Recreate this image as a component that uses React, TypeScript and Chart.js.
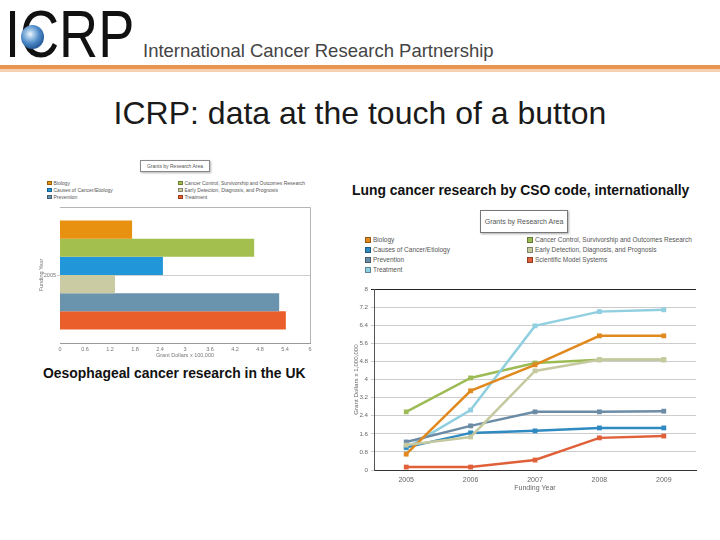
import React, { useEffect, useRef } from 'react';
import { Chart, registerables } from 'chart.js';

Chart.register(...registerables);

// ---------- Bar chart (Oesophageal cancer research in the UK) ----------
const barCategories = ['2005'];
const barSeriesNames = [
  'Biology',
  'Cancer Control, Survivorship and Outcomes Research',
  'Causes of Cancer/Etiology',
  'Early Detection, Diagnosis, and Prognosis',
  'Prevention',
  'Treatment',
];
const barValues = [1.73, 4.66, 2.47, 1.32, 5.26, 5.42];
const barColors = ['#E8900F', '#A3BF4E', '#2196D8', '#CACBA3', '#6A93AE', '#EA5E2B'];
const barLegendLeft = ['Biology', 'Causes of Cancer/Etiology', 'Prevention'];
const barLegendRight = [
  'Cancer Control, Survivorship and Outcomes Research',
  'Early Detection, Diagnosis, and Prognosis',
  'Treatment',
];

// ---------- Line chart (Lung cancer research by CSO code) ----------
const years = ['2005', '2006', '2007', '2008', '2009'];
const lineSeriesNames = [
  'Biology',
  'Causes of Cancer/Etiology',
  'Prevention',
  'Treatment',
  'Cancer Control, Survivorship and Outcomes Research',
  'Early Detection, Diagnosis, and Prognosis',
  'Scientific Model Systems',
];
const biology = [0.7, 3.5, 4.65, 5.93, 5.93];
const causes = [1.0, 1.64, 1.73, 1.86, 1.86];
const prevention = [1.24, 1.95, 2.57, 2.57, 2.6];
const treatment = [0.97, 2.65, 6.37, 7.0, 7.08];
const cancerControl = [2.57, 4.07, 4.73, 4.87, 4.87];
const earlyDetection = [1.1, 1.46, 4.38, 4.87, 4.87];
const modelSystems = [0.13, 0.13, 0.44, 1.42, 1.5];
const lineSeriesValues = [biology, causes, prevention, treatment, cancerControl, earlyDetection, modelSystems];
const lineColors = ['#E0891E', '#2E8AC0', '#6C8CA6', '#8FCFE0', '#9DBB55', '#C6C9A0', '#E0603A'];
const lineLegendLeft = ['Biology', 'Causes of Cancer/Etiology', 'Prevention', 'Treatment'];
const lineLegendRight = [
  'Cancer Control, Survivorship and Outcomes Research',
  'Early Detection, Diagnosis, and Prognosis',
  'Scientific Model Systems',
];

const FONT = '"Liberation Sans", Arial, sans-serif';

const fmt = (v: number) => String(Number(Number(v).toFixed(1)));

const framePlugin = {
  id: 'frameTopRight',
  afterDraw(chart: any) {
    const { ctx, chartArea } = chart;
    ctx.save();
    ctx.strokeStyle = '#b5b5b5';
    ctx.lineWidth = 1;
    ctx.beginPath();
    ctx.moveTo(chartArea.left, chartArea.top + 0.5);
    ctx.lineTo(chartArea.right + 0.5, chartArea.top + 0.5);
    ctx.lineTo(chartArea.right + 0.5, chartArea.bottom);
    ctx.stroke();
    ctx.restore();
  },
};

function BarChart() {
  const ref = useRef<HTMLCanvasElement>(null);
  useEffect(() => {
    const chart = new Chart(ref.current as HTMLCanvasElement, {
      type: 'bar',
      data: {
        labels: barCategories,
        datasets: barSeriesNames.map((name, i) => ({
          label: name,
          data: [barValues[i]],
          backgroundColor: barColors[i],
          borderWidth: 0,
          categoryPercentage: 0.8,
          barPercentage: 1.0,
        })),
      },
      options: {
        indexAxis: 'y',
        animation: false,
        responsive: false,
        maintainAspectRatio: false,
        layout: { padding: { top: 7, right: 3, left: 0, bottom: 0 } },
        plugins: { legend: { display: false }, tooltip: { enabled: false } },
        scales: {
          x: {
            min: 0,
            max: 6,
            ticks: {
              stepSize: 0.6,
              color: '#777',
              font: { family: FONT, size: 5.5 },
              padding: 1,
              callback: (v: any) => fmt(v),
            },
            grid: { display: false, tickLength: 2 },
            border: { display: true, color: '#999' },
            title: {
              display: true,
              text: 'Grant Dollars x 100,000',
              color: '#777',
              font: { family: FONT, size: 5.5 },
              padding: { top: 0, bottom: 6 },
            },
            afterFit: (s: any) => { s.height = 22; },
          },
          y: {
            ticks: { color: '#777', font: { family: FONT, size: 5.5 }, padding: 1 },
            grid: { display: true, offset: false, color: '#cfcfcf', tickLength: 3 },
            border: { display: false },
            title: {
              display: true,
              text: 'Funding Year',
              color: '#777',
              font: { family: FONT, size: 5.5 },
              padding: { top: 1, bottom: 0 },
            },
            afterFit: (s: any) => { s.width = 23; },
          },
        },
      },
      plugins: [framePlugin],
    } as any);
    return () => chart.destroy();
  }, []);
  return (
    <canvas
      ref={ref}
      width={276}
      height={165}
      style={{ position: 'absolute', left: 37, top: 200, width: 276, height: 165 }}
    />
  );
}

function LineChart() {
  const ref = useRef<HTMLCanvasElement>(null);
  useEffect(() => {
    const chart = new Chart(ref.current as HTMLCanvasElement, {
      type: 'line',
      data: {
        labels: years,
        datasets: lineSeriesNames.map((name, i) => ({
          label: name,
          data: lineSeriesValues[i],
          borderColor: lineColors[i],
          backgroundColor: lineColors[i],
          borderWidth: 2.5,
          pointStyle: 'rect',
          pointRadius: 3.4,
          pointBorderWidth: 0,
          fill: false,
          tension: 0,
          order: i === 5 ? 0 : 1,
        })),
      },
      options: {
        animation: false,
        responsive: false,
        maintainAspectRatio: false,
        layout: { padding: { top: 10, right: 4, left: 0, bottom: 0 } },
        plugins: { legend: { display: false }, tooltip: { enabled: false } },
        scales: {
          x: {
            offset: true,
            ticks: { color: '#666', font: { family: FONT, size: 7 }, padding: 3 },
            grid: { display: false, tickLength: 3 },
            border: { display: true, color: '#333' },
            title: {
              display: true,
              text: 'Funding Year',
              color: '#666',
              font: { family: FONT, size: 7 },
              padding: { top: 0, bottom: 3 },
            },
            afterFit: (s: any) => { s.height = 25; },
          },
          y: {
            min: 0,
            max: 8,
            ticks: {
              stepSize: 0.8,
              color: '#666',
              font: { family: FONT, size: 6.2 },
              padding: 3,
              callback: (v: any) => fmt(v),
            },
            grid: {
              color: (c: any) => (c.tick && c.tick.value === 8 ? '#222' : '#cccccc'),
              tickLength: 3,
            },
            border: { display: true, color: '#555' },
            title: {
              display: true,
              text: 'Grant Dollars x 1,000,000',
              color: '#666',
              font: { family: FONT, size: 6.2 },
              padding: { top: 3, bottom: 0 },
            },
            afterFit: (s: any) => { s.width = 24; },
          },
        },
      },
    } as any);
    return () => chart.destroy();
  }, []);
  return (
    <canvas
      ref={ref}
      width={350}
      height={216}
      style={{ position: 'absolute', left: 350, top: 279, width: 350, height: 216 }}
    />
  );
}

function LegendItem(props: { x: number; y: number; color: string; text: string; size: number; font: number }) {
  const { x, y, color, text, size, font } = props;
  return (
    <div
      style={{
        position: 'absolute',
        left: x,
        top: y - size / 2,
        height: size,
        display: 'flex',
        alignItems: 'center',
        whiteSpace: 'nowrap',
        fontSize: font,
        color: '#555',
        lineHeight: 1,
      }}
    >
      <span
        style={{
          display: 'inline-block',
          width: size,
          height: size,
          boxSizing: 'border-box',
          background: color,
          border: '1px solid rgba(0,0,0,0.35)',
          marginRight: 2,
        }}
      />
      <span>{text}</span>
    </div>
  );
}

function colorFor(names: string[], colors: string[], name: string) {
  return colors[names.indexOf(name)];
}

export default function App() {
  return (
    <div
      style={{
        position: 'fixed',
        left: 0,
        top: 0,
        width: 720,
        height: 540,
        background: '#ffffff',
        overflow: 'hidden',
        fontFamily: FONT,
      }}
    >
      {/* Logo */}
      <div
        style={{
          position: 'absolute',
          left: 5,
          top: 1,
          fontSize: 66,
          lineHeight: '66px',
          color: '#111',
          transform: 'scaleX(0.82)',
          transformOrigin: 'left top',
          whiteSpace: 'nowrap',
        }}
      >
        ICRP
      </div>
      <div
        style={{
          position: 'absolute',
          left: 21,
          top: 25,
          width: 23,
          height: 24,
          borderRadius: '50%',
          background: 'radial-gradient(circle at 40% 38%, #f2f7fc 0%, #a9cbea 18%, #4f8bc8 45%, #2a5fa0 70%, #163f78 95%)',
        }}
      />
      <div
        style={{
          position: 'absolute',
          left: 143,
          top: 42.3,
          fontSize: 18.5,
          lineHeight: '18.5px',
          color: '#444',
          whiteSpace: 'nowrap',
        }}
      >
        International Cancer Research Partnership
      </div>
      <div style={{ position: 'absolute', left: 0, top: 65, width: 720, height: 4, background: '#E9954F' }} />
      <div style={{ position: 'absolute', left: 0, top: 69, width: 720, height: 3, background: '#F5D2B4' }} />

      {/* Title */}
      <div
        style={{
          position: 'absolute',
          left: 0,
          top: 96.9,
          width: 720,
          textAlign: 'center',
          fontSize: 32,
          lineHeight: '32px',
          color: '#1a1a1a',
          whiteSpace: 'nowrap',
        }}
      >
        ICRP: data at the touch of a button
      </div>

      {/* Bar chart panel */}
      <div
        style={{
          position: 'absolute',
          left: 140,
          top: 160,
          width: 70,
          height: 12,
          boxSizing: 'border-box',
          border: '1px solid #8a8a8a',
          boxShadow: '1px 1px 2px #b0b0b0',
          fontSize: 5,
          lineHeight: '10px',
          textAlign: 'center',
          color: '#555',
          background: '#fff',
        }}
      >
        Grants by Research Area
      </div>
      {barLegendLeft.map((n, i) => (
        <LegendItem key={'bl' + i} x={47} y={183 + i * 7} color={colorFor(barSeriesNames, barColors, n)} text={n} size={4.5} font={5} />
      ))}
      {barLegendRight.map((n, i) => (
        <LegendItem key={'br' + i} x={178} y={183 + i * 7} color={colorFor(barSeriesNames, barColors, n)} text={n} size={4.5} font={5} />
      ))}
      <BarChart />
      <div
        style={{
          position: 'absolute',
          left: 43,
          top: 367.3,
          fontSize: 13.9,
          lineHeight: '13.9px',
          fontWeight: 'bold',
          color: '#111',
          whiteSpace: 'nowrap',
        }}
      >
        Oesophageal cancer research in the UK
      </div>

      {/* Line chart panel */}
      <div
        style={{
          position: 'absolute',
          left: 352,
          top: 184.3,
          fontSize: 13.9,
          lineHeight: '13.9px',
          fontWeight: 'bold',
          color: '#111',
          whiteSpace: 'nowrap',
        }}
      >
        Lung cancer research by CSO code, internationally
      </div>
      <div
        style={{
          position: 'absolute',
          left: 480,
          top: 210,
          width: 88,
          height: 23,
          boxSizing: 'border-box',
          border: '1px solid #777',
          boxShadow: '1px 1px 2px #aaa',
          fontSize: 7,
          lineHeight: '21px',
          textAlign: 'center',
          color: '#555',
          background: '#fff',
        }}
      >
        Grants by Research Area
      </div>
      {lineLegendLeft.map((n, i) => (
        <LegendItem key={'ll' + i} x={365} y={240 + i * 10} color={colorFor(lineSeriesNames, lineColors, n)} text={n} size={6} font={6.5} />
      ))}
      {lineLegendRight.map((n, i) => (
        <LegendItem key={'lr' + i} x={527} y={240 + i * 10} color={colorFor(lineSeriesNames, lineColors, n)} text={n} size={6} font={6.5} />
      ))}
      <LineChart />
    </div>
  );
}
